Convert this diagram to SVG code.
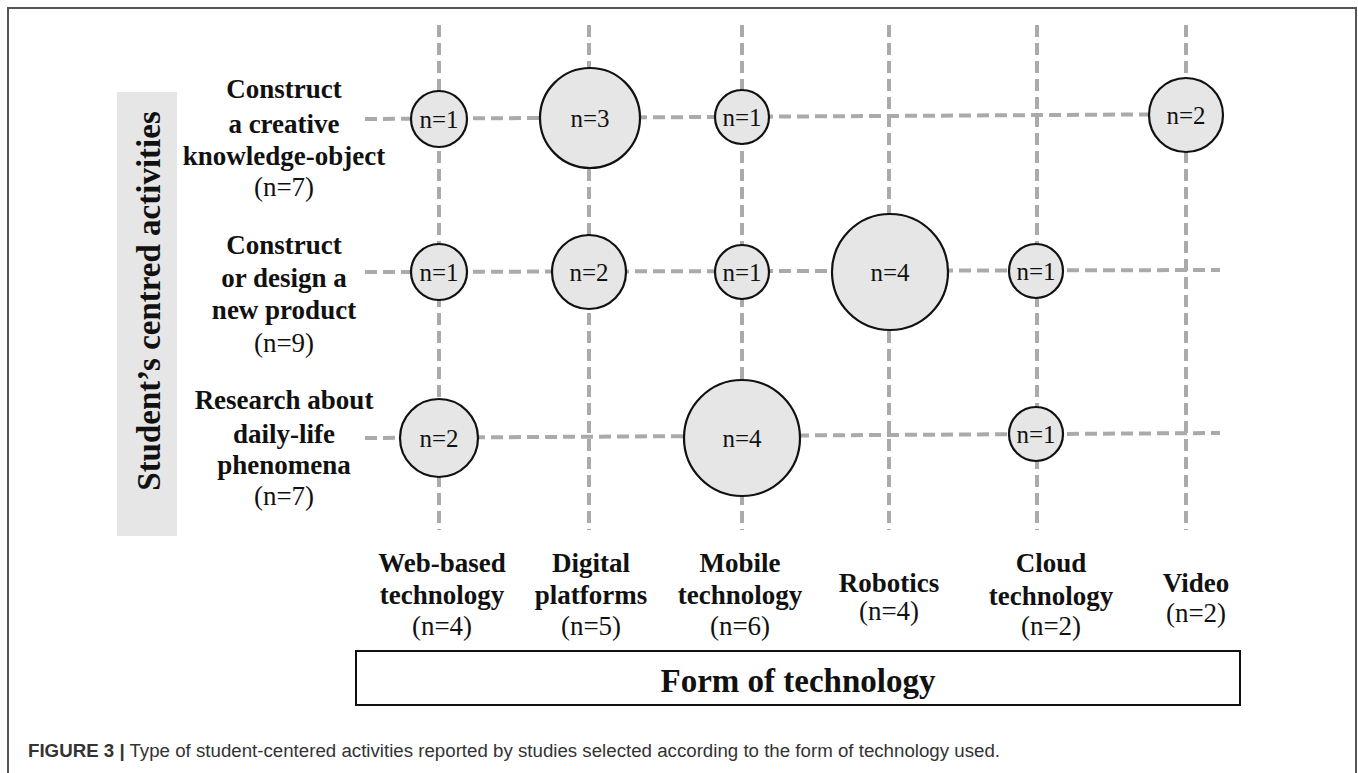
<svg xmlns="http://www.w3.org/2000/svg" width="1358" height="773" viewBox="0 0 1358 773">
<style>
.grid{stroke:#aaaaaa;stroke-width:4;stroke-dasharray:12 6;fill:none}
.bub{fill:#e6e6e6;stroke:#111;stroke-width:2.2}
.serif{font-family:"Liberation Serif","Times New Roman",Times,"DejaVu Serif","Noto Serif",serif}
.bt{font-size:25px;fill:#111;text-anchor:middle}
.lab{font-size:27px;font-weight:bold;fill:#111;text-anchor:middle}
.cnt{font-size:27px;fill:#111;text-anchor:middle}
</style>
<rect width="1358" height="773" fill="#fff"/>
<path d="M8,790 V8 H1356 V790" fill="none" stroke="#555" stroke-width="2"/>
<rect x="117" y="92" width="60" height="444" fill="#e6e6e6"/>
<text class="serif" transform="translate(160,301) rotate(-90)" font-size="33" font-weight="bold" fill="#111" text-anchor="middle">Student’s centred activities</text>
<g id="connectors">
<line class="grid" x1="439" y1="25" x2="439" y2="530"/>
<line class="grid" x1="589" y1="25" x2="589" y2="530"/>
<line class="grid" x1="742" y1="25" x2="742" y2="530"/>
<line class="grid" x1="889" y1="25" x2="889" y2="530"/>
<line class="grid" x1="1037" y1="25" x2="1037" y2="530"/>
<line class="grid" x1="1186" y1="25" x2="1186" y2="530"/>
<line class="grid" x1="365" y1="119" x2="1220" y2="114"/>
<line class="grid" x1="365" y1="272" x2="1220" y2="270"/>
<line class="grid" x1="365" y1="438" x2="1220" y2="433"/>
</g>
<g id="row-labels" class="serif">
<g id="row1"><text class="lab" x="284" y="98">Construct</text><text class="lab" x="284" y="133">a creative</text><text class="lab" x="284" y="165">knowledge-object</text><text class="cnt" x="284" y="196">(n=7)</text></g>
<g id="row2"><text class="lab" x="284" y="254">Construct</text><text class="lab" x="284" y="287">or design a</text><text class="lab" x="284" y="319">new product</text><text class="cnt" x="284" y="352">(n=9)</text></g>
<g id="row3"><text class="lab" x="284" y="409">Research about</text><text class="lab" x="284" y="443">daily-life</text><text class="lab" x="284" y="474">phenomena</text><text class="cnt" x="284" y="505">(n=7)</text></g>
</g>
<g id="col-labels" class="serif">
<g id="col1"><text class="lab" x="442" y="572">Web-based</text><text class="lab" x="442" y="604">technology</text><text class="cnt" x="442" y="635">(n=4)</text></g>
<g id="col2"><text class="lab" x="591" y="572">Digital</text><text class="lab" x="591" y="604">platforms</text><text class="cnt" x="591" y="635">(n=5)</text></g>
<g id="col3"><text class="lab" x="740" y="572">Mobile</text><text class="lab" x="740" y="604">technology</text><text class="cnt" x="740" y="635">(n=6)</text></g>
<g id="col4"><text class="lab" x="889" y="592">Robotics</text><text class="cnt" x="889" y="620">(n=4)</text></g>
<g id="col5"><text class="lab" x="1051" y="572">Cloud</text><text class="lab" x="1051" y="605">technology</text><text class="cnt" x="1051" y="635">(n=2)</text></g>
<g id="col6"><text class="lab" x="1196" y="592">Video</text><text class="cnt" x="1196" y="622">(n=2)</text></g>
</g>
<g class="serif">
<g id="b11"><circle class="bub" cx="439" cy="119" r="28"/><text class="bt" x="439" y="128">n=1</text></g>
<g id="b12"><circle class="bub" cx="590" cy="118" r="50"/><text class="bt" x="590" y="127">n=3</text></g>
<g id="b13"><circle class="bub" cx="742" cy="117" r="27"/><text class="bt" x="742" y="126">n=1</text></g>
<g id="b16"><circle class="bub" cx="1186" cy="115" r="37"/><text class="bt" x="1186" y="124">n=2</text></g>
<g id="b21"><circle class="bub" cx="439" cy="272" r="28"/><text class="bt" x="439" y="281">n=1</text></g>
<g id="b22"><circle class="bub" cx="589" cy="272" r="37"/><text class="bt" x="589" y="281">n=2</text></g>
<g id="b23"><circle class="bub" cx="742" cy="272" r="27"/><text class="bt" x="742" y="281">n=1</text></g>
<g id="b24"><circle class="bub" cx="890" cy="272" r="58"/><text class="bt" x="890" y="281">n=4</text></g>
<g id="b25"><circle class="bub" cx="1036" cy="271" r="27"/><text class="bt" x="1036" y="280">n=1</text></g>
<g id="b31"><circle class="bub" cx="439" cy="438" r="39"/><text class="bt" x="439" y="447">n=2</text></g>
<g id="b33"><circle class="bub" cx="742" cy="438" r="58"/><text class="bt" x="742" y="447">n=4</text></g>
<g id="b35"><circle class="bub" cx="1036" cy="434" r="27"/><text class="bt" x="1036" y="443">n=1</text></g>
</g>
<g id="axis">
<rect x="356" y="651" width="884" height="54" fill="#fff" stroke="#111" stroke-width="2"/>
<text class="serif" x="798" y="692" font-size="33" font-weight="bold" fill="#111" text-anchor="middle">Form of technology</text>
</g>
<text x="28" y="757" font-family="Liberation Sans,Arial,sans-serif" font-size="18" fill="#333" textLength="972" lengthAdjust="spacingAndGlyphs"><tspan font-weight="bold">FIGURE 3 |</tspan> Type of student-centered activities reported by studies selected according to the form of technology used.</text>
</svg>
